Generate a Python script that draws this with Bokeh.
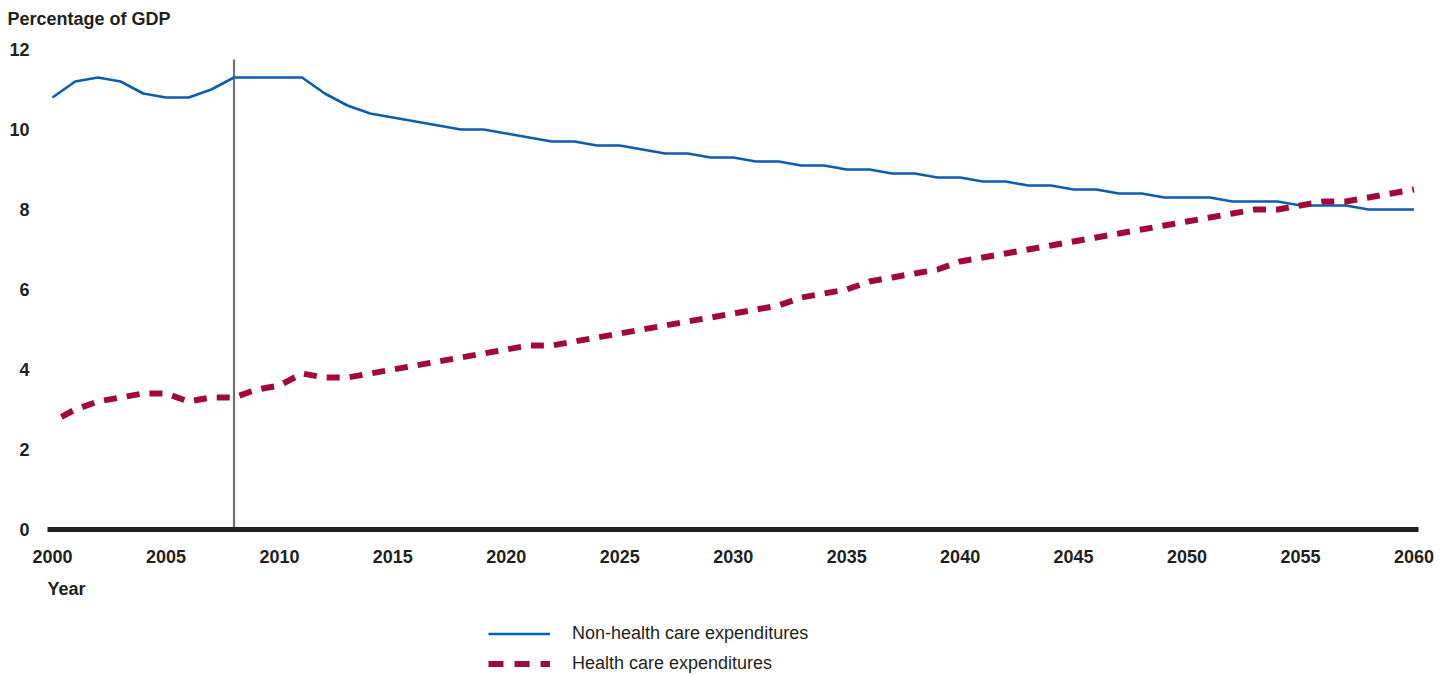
from bokeh.plotting import figure
from bokeh.layouts import column
from bokeh.models import FixedTicker, Legend, LegendItem, Range1d, ColumnDataSource, Title
from bokeh.embed import file_html
from bokeh.resources import INLINE

# ---- data -------------------------------------------------------------
years = list(range(2000, 2061))

non_health = [10.8, 11.2, 11.3, 11.2, 10.9, 10.8, 10.8, 11.0, 11.3, 11.3,
              11.3, 11.3, 10.9, 10.6, 10.4, 10.3, 10.2, 10.1, 10.0, 10.0,
              9.9, 9.8, 9.7, 9.7, 9.6, 9.6, 9.5, 9.4, 9.4, 9.3,
              9.3, 9.2, 9.2, 9.1, 9.1, 9.0, 9.0, 8.9, 8.9, 8.8,
              8.8, 8.7, 8.7, 8.6, 8.6, 8.5, 8.5, 8.4, 8.4, 8.3,
              8.3, 8.3, 8.2, 8.2, 8.2, 8.1, 8.1, 8.1, 8.0, 8.0,
              8.0]

health = [2.7, 3.0, 3.2, 3.3, 3.4, 3.4, 3.2, 3.3, 3.3, 3.5,
          3.6, 3.9, 3.8, 3.8, 3.9, 4.0, 4.1, 4.2, 4.3, 4.4,
          4.5, 4.6, 4.6, 4.7, 4.8, 4.9, 5.0, 5.1, 5.2, 5.3,
          5.4, 5.5, 5.6, 5.8, 5.9, 6.0, 6.2, 6.3, 6.4, 6.5,
          6.7, 6.8, 6.9, 7.0, 7.1, 7.2, 7.3, 7.4, 7.5, 7.6,
          7.7, 7.8, 7.9, 8.0, 8.0, 8.1, 8.2, 8.2, 8.3, 8.4,
          8.5]

x_ticks = [2000, 2005, 2010, 2015, 2020, 2025, 2030, 2035, 2040, 2045, 2050, 2055, 2060]
y_ticks = [0, 2, 4, 6, 8, 10, 12]

marker_year = [2008]
marker_bottom = [0]
marker_top = [11.75]

series_names = ["Non-health care expenditures", "Health care expenditures"]
y_title = "Percentage of GDP"
x_title = "Year"

# ---- styling ------------------------------------------------------------
BLUE = "#0a5eb0"
RED = "#a2093a"
DARK = "#231f20"
GRAY = "#717171"
FONT = "Liberation Sans"
W = 1446

p = figure(width=W, height=612, output_backend="svg", toolbar_location=None,
           x_range=Range1d(1999.78, 2060.2), y_range=Range1d(0, 12.325),
           min_border_left=47, min_border_right=28, min_border_top=0,
           min_border_bottom=0)
p.outline_line_color = None
p.background_fill_color = "white"
p.border_fill_color = "white"
p.xgrid.visible = False
p.ygrid.visible = False

# title (top-left)
p.title.text = y_title
p.title.align = "left"
p.title.offset = -40
p.title.standoff = 14
p.title.vertical_align = "middle"
p.title.text_font = FONT
p.title.text_font_style = "bold"
p.title.text_font_size = "18px"
p.title.text_color = DARK

# x axis
xa = p.xaxis[0]
xa.ticker = FixedTicker(ticks=x_ticks)
xa.major_tick_line_color = None
xa.minor_tick_line_color = None
xa.major_tick_out = 0
xa.major_tick_in = 0
xa.axis_line_color = DARK
xa.axis_line_width = 5
xa.major_label_standoff = 20
xa.major_label_text_font = FONT
xa.major_label_text_font_style = "bold"
xa.major_label_text_font_size = "18px"
xa.major_label_text_color = DARK

# y axis
ya = p.yaxis[0]
ya.ticker = FixedTicker(ticks=y_ticks)
ya.major_tick_line_color = None
ya.minor_tick_line_color = None
ya.major_tick_out = 0
ya.major_tick_in = 0
ya.axis_line_color = None
ya.major_label_standoff = 18
ya.major_label_text_font = FONT
ya.major_label_text_font_style = "bold"
ya.major_label_text_font_size = "18px"
ya.major_label_text_color = DARK

# vertical marker line
p.segment(x0=marker_year, y0=marker_bottom, x1=marker_year, y1=marker_top,
          line_color=GRAY, line_width=2.2)

src = ColumnDataSource(dict(year=years, nh=non_health, h=health))
p.line("year", "nh", source=src, line_color=BLUE, line_width=2.6)
p.line("year", "h", source=src, line_color=RED, line_width=6,
       line_dash="13 10", line_dash_offset=13)

# "Year" label under the axis, left aligned
year_title = Title(text=x_title, align="left", offset=0, standoff=25,
                   vertical_align="middle", text_font=FONT,
                   text_font_style="bold", text_font_size="18px",
                   text_color=DARK)
p.add_layout(year_title, "below")

# ---- legend strip ---------------------------------------------------------
q = figure(width=W, height=62, output_backend="svg", toolbar_location=None,
           x_range=Range1d(0, 1), y_range=Range1d(0, 1),
           x_axis_location=None, y_axis_location=None,
           min_border=0, min_border_left=0, min_border_right=0,
           min_border_top=0, min_border_bottom=0)
q.outline_line_color = None
q.xgrid.visible = False
q.ygrid.visible = False
q.background_fill_color = "white"
q.border_fill_color = "white"

# same series, drawn outside this strip's visible range; used for legend glyphs
leg_nh = q.line("year", "nh", source=src, line_color=BLUE, line_width=2.6)
leg_h = q.line("year", "h", source=src, line_color=RED, line_width=6, line_dash="15 11")

legend = Legend(items=[LegendItem(label=series_names[0], renderers=[leg_nh]),
                       LegendItem(label=series_names[1], renderers=[leg_h])],
                location=(441, 0), orientation="vertical",
                glyph_width=62, glyph_height=21, label_height=21,
                label_standoff=22, spacing=9, padding=0, margin=0,
                border_line_color=None, background_fill_alpha=0,
                label_text_font=FONT, label_text_font_size="18px",
                label_text_color=DARK)
q.add_layout(legend)

layout = column(p, q, spacing=0)
open("out.html", "w").write(file_html(layout, INLINE))
